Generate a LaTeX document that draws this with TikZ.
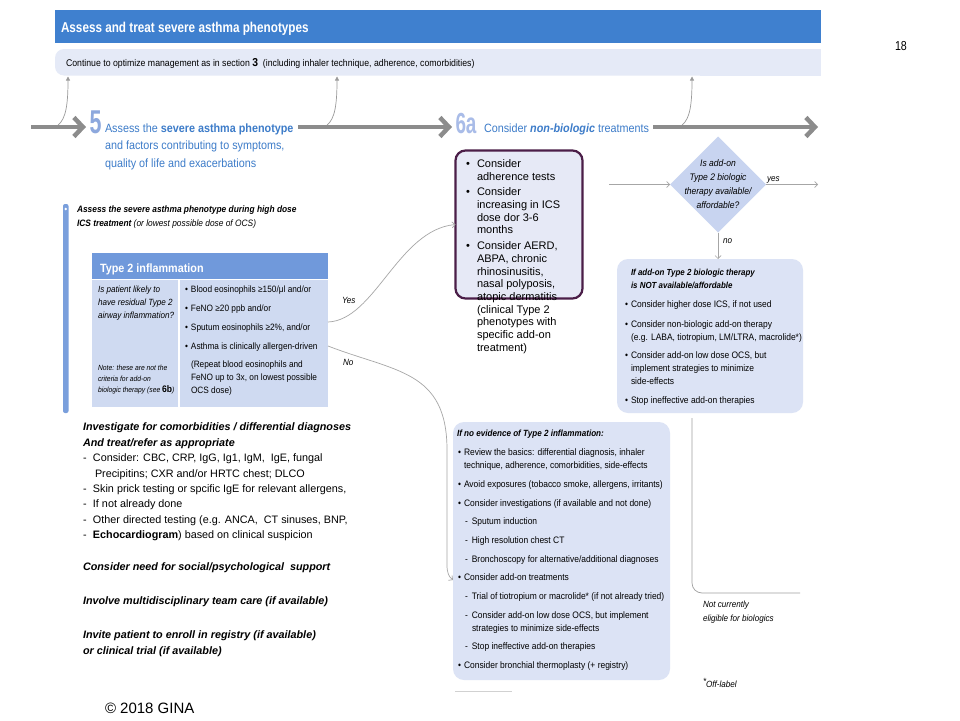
\documentclass[tikz,border=0pt]{standalone}
\usepackage{fontspec}
\setmainfont{Liberation Sans}
\newfontfamily\nar[FakeStretch=0.82]{Liberation Sans}
\newfontfamily\midf[FakeStretch=0.9]{Liberation Sans}
\newfontfamily\numf[FakeStretch=0.65]{Liberation Sans}
\usetikzlibrary{arrows.meta,shapes.geometric}
\definecolor{hdrblue}{HTML}{3F80CF}
\definecolor{barfill}{HTML}{E5EAF7}
\definecolor{numfive}{HTML}{8DA8DD}
\definecolor{numsix}{HTML}{A9BCE8}
\definecolor{stepblue}{HTML}{3D7CC9}
\definecolor{arrgray}{HTML}{8C8C8C}
\definecolor{thingray}{HTML}{A6A6A6}
\definecolor{upgray}{HTML}{9A9A9A}
\definecolor{tphead}{HTML}{7099DB}
\definecolor{tpbody}{HTML}{CFDAF1}
\definecolor{vbar}{HTML}{7A9FDC}
\definecolor{diafill}{HTML}{C8D4F0}
\definecolor{boxfill}{HTML}{DCE3F5}
\definecolor{purpline}{HTML}{4B1E48}
\definecolor{purpfill}{HTML}{E6E9F6}
\definecolor{brgray}{HTML}{A0A0A0}
\begin{document}
\begin{tikzpicture}[x=1pt,y=-1pt,
  every node/.style={inner sep=0pt, outer sep=0pt},
  mainarr/.style={draw=arrgray, line width=4.5pt, -{Straight Barb[length=9pt,width=19pt]}},
  thinarr/.style={draw=thingray, line width=0.7pt, -{Straight Barb[length=3pt,width=6pt]}},
  uparr/.style={draw=upgray, line width=0.7pt, -{Triangle[length=4pt,width=4pt]}},
  fillbox/.style={fill=boxfill, rounded corners=11pt, anchor=north west},
  txtblock/.style={anchor=north west, align=left},
]
\useasboundingbox[fill=white] (0,0) rectangle (960,720);

% header
\node[fill=hdrblue, anchor=north west, minimum width=766, minimum height=33] (hdr) at (55,10) {};
\node[anchor=base west, text=white, font=\nar\bfseries\fontsize{14.3}{16}\selectfont] (hdrtxt) at (61,32) {Assess and treat severe asthma phenotypes};

% optimize bar
\fill[barfill] (700,49) rectangle (821,75.5);
\node[fill=barfill, rounded corners=9pt, anchor=north west, minimum width=720, minimum height=26.5] (optbar) at (55,49) {};
\node[anchor=base west, font=\midf\fontsize{9.7}{11}\selectfont] (opttxt) at (66,66.5) {Continue to optimize management as in section {\bfseries\fontsize{11.5}{11}\selectfont 3}\ \ (including inhaler technique, adherence, comorbidities)};

\node[anchor=base west, font=\nar\fontsize{13}{14}\selectfont] (pgnum) at (895,50) {18};

% main flow arrows
\coordinate (mstart) at (31,127);
\coordinate (m1tip) at (86,127);
\coordinate (m2start) at (298,127);
\coordinate (m2tip) at (452,127);
\coordinate (m3start) at (653,127);
\coordinate (m3tip) at (818,127);
\draw[mainarr] (mstart) -- (m1tip);
\draw[mainarr] (m2start) -- (m2tip);
\draw[mainarr] (m3start) -- (m3tip);

% up arrows to bar
\coordinate (upAs) at (58,125);
\coordinate (upA) at (68,76.5);
\coordinate (upBs) at (327,125);
\coordinate (upB) at (337,76.5);
\coordinate (upCs) at (682,125);
\coordinate (upC) at (692,76.5);
\draw[uparr] (upAs) .. controls (66,119) and (68,104) .. (upA);
\draw[uparr] (upBs) .. controls (335,119) and (337,104) .. (upB);
\draw[uparr] (upCs) .. controls (690,119) and (692,104) .. (upC);

% step 5
\node[anchor=base west, font=\numf\bfseries\fontsize{33}{33}\selectfont, text=numfive] (s5num) at (89.5,133) {5};
\node[txtblock, font=\midf\fontsize{12}{17.5}\selectfont, text=stepblue] (s5txt) at (105,123.7) {Assess the \textbf{severe asthma phenotype}\\and factors contributing to symptoms,\\quality of life and exacerbations};

% step 6a
\node[anchor=base west, font=\numf\bfseries\fontsize{29}{29}\selectfont, text=numsix] (s6num) at (455.5,133) {6a};
\node[anchor=base west, font=\midf\fontsize{12}{14}\selectfont, text=stepblue] (s6txt) at (484,132) {Consider \textbf{\textit{non-biologic}} treatments};

% left section
\fill[vbar, rounded corners=2pt] (63,204) rectangle (68.5,413);
\fill[white] (65.7,209) circle (1.4);
\node[txtblock, font=\midf\bfseries\itshape\fontsize{9.3}{14}\selectfont] (assess) at (77,206.2) {Assess the severe asthma phenotype during high dose\\ICS treatment {\mdseries(or lowest possible dose of OCS)}};

% type 2 box
\node[fill=tpbody, anchor=north west, minimum width=236, minimum height=154] (t2box) at (92,253) {};
\node[fill=tphead, anchor=north west, minimum width=236, minimum height=26] (t2head) at (92,253) {};
\draw[white, line width=1pt] (92,279) -- (328,279);
\draw[white, line width=1.5pt] (179,279) -- (179,407);
\node[anchor=base west, text=white, font=\midf\bfseries\fontsize{12}{14}\selectfont] (t2title) at (100,272) {Type 2 inflammation};
\node[txtblock, font=\midf\itshape\fontsize{9}{13}\selectfont] (t2q) at (98,286.4) {Is patient likely to\\have residual Type 2\\airway inflammation?};
\node[txtblock, font=\midf\itshape\fontsize{7.5}{11}\selectfont] (t2note) at (98,365.5) {Note: these are not the\\criteria for add-on\\biologic therapy (see {\upshape\bfseries\fontsize{9.5}{11}\selectfont 6b})};
\node[txtblock, font=\midf\fontsize{9.2}{12.7}\selectfont] (t2list) at (191,286.3) {\llap{•\hspace{3pt}}Blood eosinophils ≥150/μl and/or\\[6pt]\llap{•\hspace{3pt}}FeNO ≥20 ppb and/or\\[6pt]\llap{•\hspace{3pt}}Sputum eosinophils ≥2\%, and/or\\[6pt]\llap{•\hspace{3pt}}Asthma is clinically allergen-driven\\[6pt](Repeat blood eosinophils and\\FeNO up to 3x, on lowest possible\\OCS dose)};

% purple box
\node[draw=purpline, line width=2.2pt, fill=purpfill, rounded corners=10pt, anchor=north west, minimum width=127, minimum height=148] (pbox) at (455.5,150.5) {};
\node[txtblock, font=\fontsize{11}{12.7}\selectfont] (ptxt) at (477,159.5) {\llap{•\hspace{7pt}}Consider\\adherence tests\\[3pt]\llap{•\hspace{7pt}}Consider\\increasing in ICS\\dose dor 3-6\\months\\[3pt]\llap{•\hspace{7pt}}Consider AERD,\\ABPA, chronic\\rhinosinusitis,\\nasal polyposis,\\atopic dermatitis\\(clinical Type 2\\phenotypes with\\specific add-on\\treatment)};

% yes / no connectors
\draw[thinarr] ([yshift=8pt]t2box.east) .. controls (375,320) and (398,230) .. (pbox.west);
\node[anchor=base west, font=\midf\itshape\fontsize{9}{11}\selectfont] (yeslbl) at (342,303) {Yes};
\node[anchor=base west, font=\midf\itshape\fontsize{9}{11}\selectfont] (nolbl) at (343,365) {No};

% diamond
\node[diamond, aspect=1, fill=diafill, minimum width=96, minimum height=96] (dia) at (718,184.5) {};
\node[anchor=north, align=center, font=\midf\itshape\fontsize{9.5}{14}\selectfont] (diatxt) at (718,159.6) {Is add-on\\Type 2 biologic\\therapy available/\\affordable?};
\coordinate (dain) at (609,184.5);
\coordinate (daout) at (818,184.5);
\draw[thinarr] (dain) -- (dia.west);
\draw[thinarr] (dia.east) -- (daout);
\node[anchor=base west, font=\midf\itshape\fontsize{9}{11}\selectfont] (yeslbl2) at (767,181) {yes};

% right box
\node[fillbox, minimum width=186, minimum height=154] (rbox) at (617,259) {};
\draw[thinarr] (dia.south) -- (rbox.north -| dia.south);
\node[anchor=base west, font=\midf\itshape\fontsize{9}{11}\selectfont] (nolbl2) at (723,243) {no};
\node[txtblock, font=\midf\fontsize{9.4}{13}\selectfont] (rtxt) at (631,269.1) {{\bfseries\itshape\fontsize{8.8}{13}\selectfont If add-on Type 2 biologic therapy}\\{\bfseries\itshape\fontsize{8.8}{13}\selectfont is NOT available/affordable}\\[6pt]\llap{•\hspace{3pt}}Consider higher dose ICS, if not used\\[7pt]\llap{•\hspace{3pt}}Consider non-biologic add-on therapy\\(e.g. LABA, tiotropium, LM/LTRA, macrolide*)\\[5pt]\llap{•\hspace{3pt}}Consider add-on low dose OCS, but\\implement strategies to minimize\\side-effects\\[6pt]\llap{•\hspace{3pt}}Stop ineffective add-on therapies};

% bracket line (not eligible)
\draw[brgray, line width=0.7pt, rounded corners=10pt] (692,418) -- (692,593) -- (800,593);
\node[txtblock, font=\midf\itshape\fontsize{9}{14}\selectfont] (noelig) at (703,601.4) {Not currently\\eligible for biologics};

% bottom box
\node[fillbox, minimum width=217, minimum height=258] (bbox) at (453,422) {};
\draw[thinarr] ([yshift=-16pt]t2box.east) .. controls (395,372) and (447,370) .. (447,450) -- (447,565) .. controls (447,573) and (449,577) .. ([yshift=-29pt]bbox.west);
\node[txtblock, font=\midf\fontsize{9.4}{13}\selectfont] (btxt) at (464,430.4) {\hspace{-7pt}{\bfseries\itshape\fontsize{9}{13}\selectfont If no evidence of Type 2 inflammation:}\\[5.7pt]\llap{•\hspace{3pt}}Review the basics: differential diagnosis, inhaler\\technique, adherence, comorbidities, side-effects\\[5.7pt]\llap{•\hspace{3pt}}Avoid exposures (tobacco smoke, allergens, irritants)\\[5.7pt]\llap{•\hspace{3pt}}Consider investigations (if available and not done)\\[5.7pt]\hspace{1pt}-\hspace{4pt}Sputum induction\\[5.7pt]\hspace{1pt}-\hspace{4pt}High resolution chest CT\\[5.7pt]\hspace{1pt}-\hspace{4pt}Bronchoscopy for alternative/additional diagnoses\\[5.7pt]\llap{•\hspace{3pt}}Consider add-on treatments\\[5.7pt]\hspace{1pt}-\hspace{4pt}Trial of tiotropium or macrolide* (if not already tried)\\[5.7pt]\hspace{1pt}-\hspace{4pt}Consider add-on low dose OCS, but implement\\\hspace{8pt}strategies to minimize side-effects\\[5.7pt]\hspace{1pt}-\hspace{4pt}Stop ineffective add-on therapies\\[5.7pt]\llap{•\hspace{3pt}}Consider bronchial thermoplasty (+ registry)};
\draw[black!18, line width=0.6pt] (455,691) -- (512,691);

% left lower text
\node[txtblock, font=\fontsize{10.8}{15.4}\selectfont] (inv) at (83,423.1) {{\bfseries\itshape Investigate for comorbidities / differential diagnoses}\\{\bfseries\itshape And treat/refer as appropriate}\\-\hspace{6.4pt}Consider: CBC, CRP, IgG, Ig1, IgM,\ \ IgE, fungal\\\hspace{12pt}Precipitins; CXR and/or HRTC chest; DLCO\\-\hspace{6.4pt}Skin prick testing or spcific IgE for relevant allergens,\\-\hspace{6.4pt}If not already done\\-\hspace{6.4pt}Other directed testing (e.g. ANCA,\ \ CT sinuses, BNP,\\-\hspace{6.4pt}\textbf{Echocardiogram}) based on clinical suspicion\\[16.8pt]{\bfseries\itshape Consider need for social/psychological\ \ support}\\[18.6pt]{\bfseries\itshape Involve multidisciplinary team care (if available)}\\[18.6pt]{\bfseries\itshape Invite patient to enroll in registry (if available)}\\{\bfseries\itshape or clinical trial (if available)}};

% footer
\node[anchor=base west, font=\midf\itshape\fontsize{9}{11}\selectfont] (offl) at (703,687) {\raisebox{3pt}{*}Off-label};
\node[anchor=base west, font=\fontsize{15}{17}\selectfont] (copy) at (105,713) {© 2018 GINA};
\end{tikzpicture}
\end{document}
